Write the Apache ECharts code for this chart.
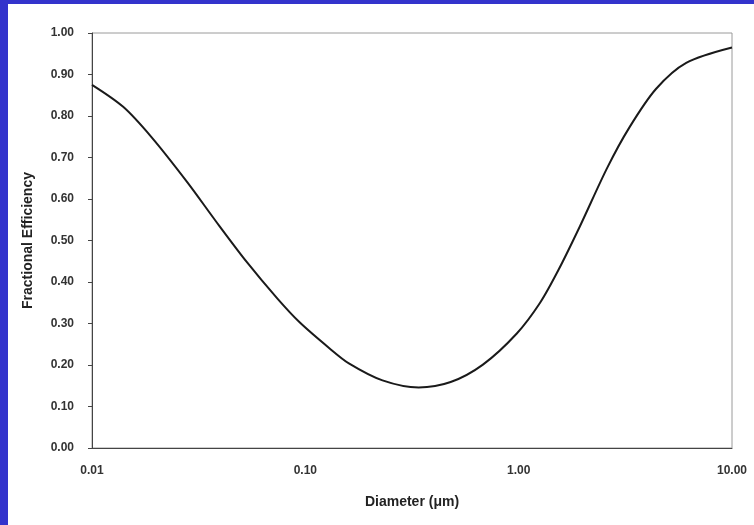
<!DOCTYPE html>
<html>
<head>
<meta charset="utf-8">
<script src="https://cdn.jsdelivr.net/npm/echarts@6/dist/echarts.min.js"></script>
<style>
html, body {
  margin: 0;
  padding: 0;
  width: 754px;
  height: 525px;
  background: #3333cc;
  overflow: hidden;
}
#main {
  position: absolute;
  left: 8px;
  top: 4px;
  width: 746px;
  height: 521px;
  background: #ffffff;
}
</style>
</head>
<body>
<div id="main"></div>
<script>
// particle diameter (um) and fractional efficiency
var diameters = [0.01, 0.014, 0.019, 0.028, 0.038, 0.053, 0.074, 0.094, 0.13, 0.16, 0.23, 0.34, 0.48, 0.68, 0.98, 1.26, 1.54, 1.94, 2.6, 3.3, 4.4, 6.1, 10];
var efficiency = [0.875, 0.822, 0.749, 0.640, 0.547, 0.449, 0.360, 0.303, 0.240, 0.204, 0.163, 0.146, 0.159, 0.201, 0.276, 0.350, 0.430, 0.535, 0.675, 0.772, 0.865, 0.928, 0.965];

var font = "'Liberation Sans', Arial, sans-serif";
var myChart = echarts.init(document.getElementById("main"));

var option = {
  animation: false,
  grid: {
    left: 84,
    top: 29,
    right: 22,
    bottom: 77,
    show: true,
    borderColor: "#9a9a9a",
    borderWidth: 1,
  },
  xAxis: {
    type: "log",
    logBase: 10,
    min: 0.01,
    max: 10,
    name: "Diameter (μm)",
    nameLocation: "middle",
    nameGap: 47,
    nameTextStyle: { fontFamily: font, fontSize: 14, fontWeight: "bold", color: "#222" },
    axisLine: { show: true, lineStyle: { color: "#444", width: 1 } },
    axisTick: { show: false },
    minorTick: { show: false },
    splitLine: { show: false },
    axisLabel: {
      fontFamily: font,
      fontSize: 12,
      fontWeight: "bold",
      color: "#333",
      margin: 17,
      formatter: function (v) {
        return Number(v).toFixed(2);
      },
    },
  },
  yAxis: {
    type: "value",
    min: 0,
    max: 1,
    interval: 0.1,
    name: "Fractional Efficiency",
    nameLocation: "middle",
    nameGap: 57,
    nameTextStyle: { fontFamily: font, fontSize: 14, fontWeight: "bold", color: "#222" },
    axisLine: { show: true, lineStyle: { color: "#444", width: 1 } },
    axisTick: { show: true, inside: false, length: 4, lineStyle: { color: "#444" } },
    splitLine: { show: false },
    axisLabel: {
      fontFamily: font,
      fontSize: 12,
      fontWeight: "bold",
      color: "#333",
      margin: 18,
      formatter: function (v) {
        return v.toFixed(2);
      },
    },
  },
  series: [
    {
      name: "Fractional Efficiency",
      type: "line",
      smooth: 0.3,
      showSymbol: false,
      lineStyle: { color: "#1a1a1a", width: 2 },
      data: diameters.map(function (d, i) {
        return [d, efficiency[i]];
      }),
    },
  ],
};

myChart.setOption(option);
</script>
</body>
</html>
